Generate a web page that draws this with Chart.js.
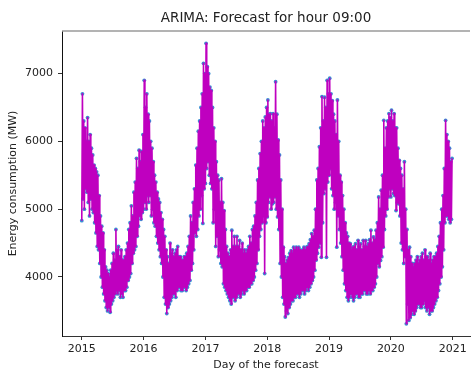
<!DOCTYPE html>
<html>
<head>
<meta charset="utf-8">
<script src="https://cdn.jsdelivr.net/npm/chart.js@4.4.1/dist/chart.umd.min.js"></script>
<style>
  html, body { margin: 0; padding: 0; overflow: hidden; background: #fff; }
  #wrap { width: 474px; height: 372px; }
</style>
</head>
<body>
<div id="wrap"><canvas id="arimaChart"></canvas></div>
<script>
Chart.defaults.font.family = "'DejaVu Sans', sans-serif";
Chart.defaults.font.size = 11;
Chart.defaults.color = '#222';

// low / high swings, four readings per half-month (MW)
const mw2015 = [4830,6700,5150,6300, 5000,6200,5300,6000, 5250,6350,5100,6000, 4900,6100,5150,5900,
  5000,5800,4950,5650, 4800,5600,4650,5550, 4450,5500,4400,5200, 4200,4900,4000,4750,
  3850,4650,3750,4400, 3650,4150,3550,4100, 3500,4050,3550,4000, 3480,4100,3600,4200,
  3650,4350,3700,4250, 3750,4700,3800,4400, 3750,4450,3800,4300, 3700,4400,3750,4250,
  3700,4250,3800,4300, 3800,4400,3850,4500, 3950,4700,4000,4800, 4050,5050,4200,4900,
  4350,5250,4400,5400, 4450,5750,4600,5600, 4750,5870,4900,5700, 4850,5850,4950,6100];
const mw2016 = [5000,6900,5100,6500, 5000,6700,5200,6400, 5100,6300,5200,6000, 4900,5900,5000,5700,
  4800,5500,4750,5400, 4600,5250,4500,5150, 4400,5100,4300,4950, 4200,4850,4000,4700,
  3700,4600,3600,4400, 3460,4300,3550,4200, 3600,4500,3650,4350, 3700,4400,3750,4300,
  3750,4350,3700,4400, 3800,4450,3850,4300, 3850,4300,3800,4250, 3800,4250,3850,4300,
  3850,4300,3800,4350, 3850,4450,3900,4600, 3950,4900,4100,4800, 4200,5100,4400,5300,
  4650,5650,4600,5900, 4700,6150,4900,6300, 5000,6500,5200,6700, 4790,7150,5300,7000];
const mw2017 = [5380,7445,5600,7100, 5700,7000,5500,6800, 5380,6750,5300,6500, 4800,6200,5000,6000,
  4450,5700,4600,5500, 4300,5430,4400,5100, 4200,5450,4150,5100, 3900,4980,3850,4700,
  3800,4450,3750,4350, 3700,4300,3650,4400, 3600,4690,3700,4450, 3700,4600,3650,4450,
  3700,4600,3750,4450, 3750,4540,3700,4400, 3750,4500,3800,4350, 3750,4400,3800,4350,
  3800,4400,3850,4450, 3850,4600,3900,4500, 3900,4700,3950,4750, 4000,4900,4100,5100,
  4200,5430,4400,5600, 4600,5820,4700,6000, 4800,6300,4900,6200, 4050,6360,4800,6500];
const mw2018 = [4885,6610,5100,6400, 5180,6410,5000,6300, 5080,6410,5100,6200, 5180,6880,5000,6400,
  4885,6020,4700,5800, 4200,5430,4000,5000, 3700,4440,3600,4300, 3410,4200,3500,4250,
  3460,4290,3550,4350, 3600,4390,3650,4350, 3650,4440,3700,4400, 3700,4440,3750,4400,
  3750,4440,3700,4400, 3750,4390,3800,4400, 3800,4440,3750,4400, 3800,4440,3850,4450,
  3800,4490,3850,4550, 3900,4640,3950,4600, 4000,4690,4100,5000, 4250,5430,4350,5600,
  4440,5920,4500,6200, 4290,6660,4800,6300, 5230,6650,5300,6500, 4290,6900,5400,6700];
const mw2019 = [5500,6930,5600,6700, 5300,6600,5200,6400, 5000,6300,5100,6100, 4440,6610,4900,6000,
  4700,5500,4500,5400, 4300,5200,4100,5000, 3900,4800,3800,4650, 3700,4600,3650,4500,
  3700,4490,3750,4400, 3700,4440,3650,4450, 3700,4490,3750,4400, 3750,4540,3700,4450,
  3700,4490,3750,4400, 3750,4540,3800,4450, 3800,4540,3750,4450, 3750,4490,3800,4550,
  3750,4690,3800,4500, 3800,4590,3850,4550, 3900,4690,4000,4800, 4200,5180,4150,5000,
  4245,5280,4300,5500, 4440,6310,4700,5900, 4900,6200,5000,6300, 5180,6410,5300,6350];
const mw2020 = [5180,6460,5300,6300, 5230,6410,5200,6200, 4980,6200,5100,5900, 5080,5720,4900,5600,
  4500,5500,4400,5300, 4200,5700,4300,5000, 3310,4700,3600,4400, 3360,4440,3400,4300,
  3450,4200,3500,4150, 3450,4200,3500,4250, 3550,4300,3600,4200, 3600,4250,3550,4300,
  3550,4350,3600,4250, 3650,4400,3550,4300, 3500,4300,3550,4250, 3450,4350,3500,4200,
  3500,4250,3550,4300, 3600,4300,3650,4350, 3700,4450,3800,4600, 3900,4800,4000,5000,
  4150,5200,4400,5600, 4800,6310,4900,6100, 4900,6000,4850,5900, 4800,5700,4850,5750];

const firstYear = 2015;
const valuesPerYear = 96;
const yearTicks = [2015, 2016, 2017, 2018, 2019, 2020, 2021];
const mwTicks = [4000, 5000, 6000, 7000];

const consumption = [].concat(mw2015, mw2016, mw2017, mw2018, mw2019, mw2020);
const toPoints = () => consumption.map((v, i) => ({ x: firstYear + i / valuesPerYear, y: v }));

// matplotlib-ish top spine
const topSpine = {
  id: 'topSpine',
  afterDraw(chart) {
    const { ctx, chartArea: a } = chart;
    ctx.save();
    ctx.strokeStyle = '#9a9a9a';
    ctx.lineWidth = 1.5;
    ctx.beginPath();
    ctx.moveTo(a.left, a.top);
    ctx.lineTo(a.right, a.top);
    ctx.stroke();
    ctx.restore();
  }
};

const tickGrid = { drawOnChartArea: false, drawTicks: true, tickLength: 4, color: '#333' };

new Chart(document.getElementById('arimaChart'), {
  type: 'line',
  data: {
    datasets: [
      {
        label: 'Forecast',
        data: toPoints(),
        borderColor: '#bf00bf',
        borderWidth: 1.6,
        borderJoinStyle: 'round',
        pointRadius: 0
      },
      {
        label: 'Actual',
        data: toPoints(),
        showLine: false,
        pointRadius: 1.9,
        pointBorderWidth: 0,
        pointBackgroundColor: '#3a8fd4',
        borderColor: '#3a8fd4'
      }
    ]
  },
  options: {
    responsive: true,
    maintainAspectRatio: false,
    animation: false,
    devicePixelRatio: 1,
    layout: { padding: { left: 0, right: 1, top: 0, bottom: 0 } },
    plugins: {
      legend: { display: false },
      tooltip: { enabled: false },
      title: {
        display: true,
        text: 'ARIMA: Forecast for hour 09:00',
        fullSize: false,
        color: '#222',
        font: { size: 13.5, weight: 'normal' },
        padding: { top: 10, bottom: 4.8 }
      }
    },
    scales: {
      x: {
        type: 'linear',
        min: 2014.68,
        max: 2021.28,
        afterBuildTicks: s => { s.ticks = yearTicks.map(v => ({ value: v })); },
        afterFit: s => { s.height = 36; },
        grid: tickGrid,
        border: { color: '#333', width: 1 },
        ticks: { padding: 3, maxRotation: 0, autoSkip: false, callback: v => String(v) },
        title: { display: true, text: 'Day of the forecast', padding: { top: 0, bottom: 0.5 } }
      },
      y: {
        min: 3130,
        max: 7627,
        afterBuildTicks: s => { s.ticks = mwTicks.map(v => ({ value: v })); },
        afterFit: s => { s.width = 62; },
        grid: tickGrid,
        border: { color: '#111', width: 1 },
        ticks: { padding: 5, callback: v => String(v) },
        title: { display: true, text: 'Energy consumption (MW)', padding: { top: 7, bottom: 0 } }
      }
    }
  },
  plugins: [topSpine]
});
</script>
</body>
</html>
